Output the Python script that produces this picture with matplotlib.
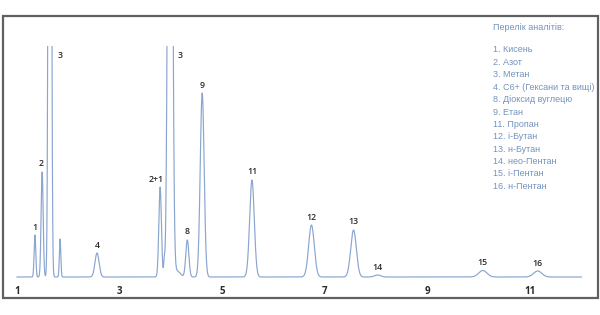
import numpy as np
import matplotlib
matplotlib.use("Agg")
import matplotlib.pyplot as plt
from matplotlib.patches import Rectangle

# ---- data: chromatogram peaks (retention time, height, width) ----
peak_times   = [1.35, 1.49, 1.64, 1.84, 2.56, 3.79, 3.87, 3.985, 4.12, 4.32, 4.61, 5.58, 6.74, 7.56, 8.03, 10.08, 11.15]
peak_heights = [42, 105, 1500, 38, 24, 90, 14, 1000, 6, 37, 184, 97, 52, 47, 2, 6.5, 6]
peak_sigmas  = [0.016, 0.02, 0.022, 0.014, 0.04, 0.025, 0.012, 0.036, 0.06, 0.03, 0.038, 0.045, 0.055, 0.055, 0.06, 0.08, 0.08]

label_texts  = ["1", "2", "3", "4", "2+1", "3", "8", "9", "11", "12", "13", "14", "15", "16"]
label_peaks  = [0, 1, 2, 4, 5, 7, 9, 10, 11, 12, 13, 14, 15, 16]

x_ticks = [1, 3, 5, 7, 9, 11]

legend_title = "Перелік аналітів:"
legend_items = ["1. Кисень", "2. Азот", "3. Метан", "4. C6+ (Гексани та вищі)",
                "8. Діоксид вуглецю", "9. Етан", "11. Пропан", "12. і-Бутан",
                "13. н-Бутан", "14. нео-Пентан", "15. і-Пентан", "16. н-Пентан"]

t = np.linspace(1.0, 12.0, 6000)
signal = np.zeros_like(t)
for tc, h, s in zip(peak_times, peak_heights, peak_sigmas):
    signal += h * np.exp(-0.5 * ((t - tc) / s) ** 2)

W, H = 600, 315
fig = plt.figure(figsize=(6, 3.15), dpi=100)
fig.patch.set_facecolor("white")

# frame
fig.patches.append(Rectangle((3 / W, (H - 298) / H), 595 / W, 282 / H, fill=False,
                             edgecolor="#606060", linewidth=1.6, transform=fig.transFigure))

ax = fig.add_axes([3 / W, (H - 298) / H, 595 / W, 252 / H])
ax.set_facecolor("none")
ax.plot(t, signal, color="#8aa5cf", linewidth=0.85)
px_per_unit = 51.3
ax.set_xlim(1 + (3 - 17) / px_per_unit, 1 + (598 - 17) / px_per_unit)
ax.set_ylim(-21, 231)
for sp in ax.spines.values():
    sp.set_visible(False)
ax.set_yticks([])
ax.set_xticks(x_ticks)
ax.set_xticklabels([str(v) for v in x_ticks])
ax.tick_params(axis="x", length=0, pad=-9, labelsize=7, labelcolor="#2a2a2a")
for lab in ax.get_xticklabels():
    lab.set_fontweight("bold")
    lab.set_fontfamily("Open Sans")

# peak labels
dx_px = {2: 10, 5: 9.5, 4: -4, 1: -1}
for i, (txt, pi) in enumerate(zip(label_texts, label_peaks)):
    x = peak_times[pi] + dx_px.get(i, 0) / px_per_unit
    y = min(peak_heights[pi], 230) + 8
    if peak_heights[pi] > 230:
        y = 222
    ax.text(x, y, txt, ha="center", va="center", fontsize=6.3, color="#2a2a2a",
            family="Open Sans", fontweight="semibold")

# legend block
fam = ["Liberation Sans"]
fig.text(493 / W, 1 - 27 / H, legend_title, ha="left", va="center", fontsize=6.5,
         color="#7393bd", family=fam)
for i, item in enumerate(legend_items):
    fig.text(493 / W, 1 - (50 + 12.4 * i) / H, item, ha="left", va="center", fontsize=6.5,
             color="#7393bd", family=fam)

fig.savefig("out.png", dpi=100, facecolor="white")
